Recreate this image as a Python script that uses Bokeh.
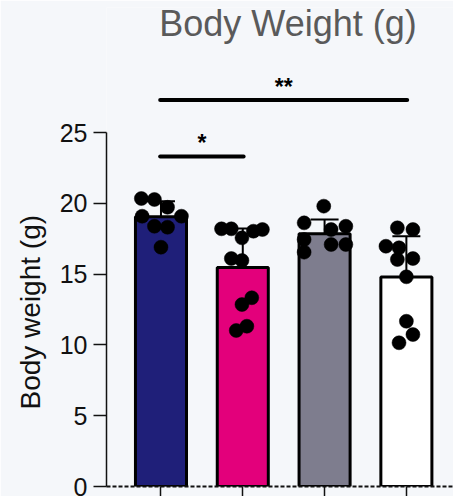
from bokeh.plotting import figure
from bokeh.models import Range1d, FixedTicker, ColumnDataSource, Whisker, TeeHead, Title
from bokeh.core.properties import value
from bokeh.embed import file_html
from bokeh.resources import INLINE

# ---- data ----
groups = ["Group 1", "Group 2", "Group 3", "Group 4"]
group_pos = [1, 2, 3, 4]
bar_colors = ["#1f1f79", "#e3007b", "#7e7d8e", "#ffffff"]
means = [19.05, 15.47, 17.85, 14.8]
sds = [1.1, 2.75, 1.0, 2.87]

g1_vals = [20.34, 20.27, 19.72, 19.09, 19.09, 18.38, 18.31, 16.9]
g1_jit = [-0.24, -0.08, 0.08, -0.23, 0.25, -0.08, 0.08, 0.0]
g2_vals = [18.2, 18.2, 18.03, 18.15, 17.56, 16.1, 15.96, 13.33, 12.85, 11.32, 11.02]
g2_jit = [-0.26, -0.14, 0.13, 0.24, -0.01, -0.14, -0.01, 0.11, -0.01, 0.05, -0.08]
g3_vals = [19.8, 18.62, 18.15, 18.38, 17.44, 17.09, 17.09, 16.55]
g3_jit = [-0.01, -0.25, 0.08, 0.26, -0.25, 0.08, 0.26, -0.25]
g4_vals = [18.27, 18.15, 16.97, 16.86, 16.03, 16.1, 14.81, 11.67, 10.73, 10.15]
g4_jit = [-0.11, 0.08, -0.25, -0.09, -0.11, 0.08, 0.0, 0.0, 0.08, -0.09]

y_ticks = [0, 5, 10, 15, 20, 25]
sig_from = [1, 1]
sig_to = [2, 4]
sig_label = ["*", "**"]
sig_height = [23.3, 27.3]

title_text = "Body Weight (g)"
y_label = "Body weight (g)"

# ---- figure ----
BG = "#f5f7fa"
p = figure(width=453, height=496, output_backend="svg", toolbar_location=None,
           x_range=Range1d(0.334, 4.576), y_range=Range1d(0, 33.83),
           min_border_left=106, min_border_right=0, min_border_top=7, min_border_bottom=10)
p.background_fill_color = BG
p.border_fill_color = BG
p.outline_line_color = None
p.grid.visible = False

# bars
bar_src = ColumnDataSource(dict(x=group_pos, top=means, color=bar_colors,
                                upper=[m + s for m, s in zip(means, sds)],
                                lower=[m - s for m, s in zip(means, sds)]))
p.vbar(x="x", top="top", bottom=0, width=0.624, fill_color="color",
       line_color="black", line_width=3, source=bar_src)

# error bars
wh = Whisker(base="x", upper="upper", lower="lower", source=bar_src,
             line_color="black", line_width=2,
             upper_head=TeeHead(size=28, line_width=2, line_color="black"),
             lower_head=TeeHead(size=28, line_width=2, line_color="black"))
p.add_layout(wh)

# points
for pos, vals, jit in [(1, g1_vals, g1_jit), (2, g2_vals, g2_jit),
                       (3, g3_vals, g3_jit), (4, g4_vals, g4_jit)]:
    p.scatter([pos + j for j in jit], vals, size=14, fill_color="black",
              line_color="black", line_width=0.5)

# significance
for a, b, lab, h in zip(sig_from, sig_to, sig_label, sig_height):
    p.line([a - 0.01, b + 0.01], [h, h], line_color="black", line_width=4,
           line_cap="round")
    p.text([(a + b) / 2], [h + 0.95], text=[lab], text_align="center",
           text_baseline="alphabetic", text_font=value("Liberation Sans"),
           text_font_style="bold", text_font_size="23px", text_color="black")

# title
p.text([2.553], [32.7], text=[title_text], text_align="center",
       text_baseline="alphabetic", text_font=value("Liberation Sans"),
       text_font_size="36px", text_color="#5a5a5a")

# y-axis label, placed along the drawn axis (0..25)
ylab = Title(text=y_label, align="left", offset=77, standoff=22,
             text_font="Liberation Sans", text_font_size="28px",
             text_font_style="normal", text_color="#111111")
p.add_layout(ylab, "left")

# axes
ya = p.yaxis[0]
ya.ticker = FixedTicker(ticks=y_ticks)
ya.bounds = (0, 25)
ya.major_label_text_font = "Liberation Sans"
ya.major_label_text_font_size = "25px"
ya.major_label_text_color = "#111111"
ya.major_label_standoff = 6
ya.major_tick_out = 13
ya.major_tick_in = 0
ya.minor_tick_out = 0
ya.minor_tick_in = 0
ya.axis_line_width = 1.5
ya.major_tick_line_width = 1.5
ya.axis_line_color = "#111111"
ya.major_tick_line_color = "#111111"

xa = p.xaxis[0]
xa.ticker = FixedTicker(ticks=group_pos)
xa.major_label_overrides = {1: "", 2: "", 3: "", 4: ""}
xa.major_label_text_font_size = "10px"
xa.major_label_standoff = 0
xa.major_tick_out = 10
xa.major_tick_in = 0
xa.minor_tick_out = 0
xa.axis_line_width = 2
xa.axis_line_dash = "4 2"
xa.axis_line_color = "#111111"
xa.major_tick_line_width = 1.5
xa.major_tick_line_color = "#111111"

open("out.html", "w").write(file_html(p, INLINE))
